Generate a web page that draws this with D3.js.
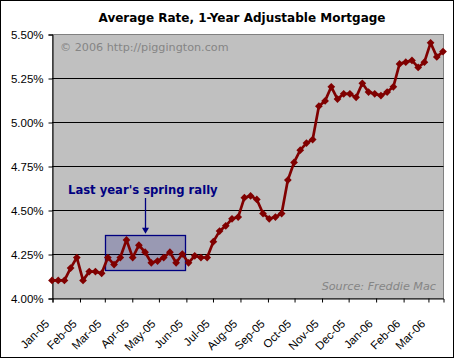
<!DOCTYPE html>
<html><head><meta charset="utf-8">
<script src="https://cdn.jsdelivr.net/npm/d3@7"></script>
<style>body{margin:0;background:#fff}svg{display:block}</style>
</head><body>
<script>
// Weekly average rate, 1-year ARM (Freddie Mac), Jan 6 2005 - Mar 23 2006
const firstWeek = "2005-01-06";
const rates = [4.10,4.10,4.10,4.17,4.23,4.10,4.15,4.15,4.14,4.23,4.19,4.23,4.33,4.23,4.30,4.26,
  4.20,4.21,4.23,4.26,4.20,4.25,4.20,4.24,4.23,4.23,4.32,4.38,4.41,4.45,4.46,4.57,
  4.58,4.56,4.48,4.45,4.46,4.48,4.67,4.77,4.84,4.88,4.90,5.09,5.12,5.20,5.13,5.16,
  5.16,5.14,5.22,5.17,5.16,5.15,5.17,5.20,5.33,5.34,5.35,5.31,5.34,5.45,5.37,5.40];
const yTicks = [4.00,4.25,4.50,4.75,5.00,5.25,5.50];
const xTickDates = ["2005-01-06","2005-02-06","2005-03-06","2005-04-06","2005-05-06","2005-06-06",
  "2005-07-06","2005-08-06","2005-09-06","2005-10-06","2005-11-06","2005-12-06",
  "2006-01-06","2006-02-06","2006-03-06"];
const xTickLabels = ["Jan-05","Feb-05","Mar-05","Apr-05","May-05","Jun-05","Jul-05","Aug-05",
  "Sep-05","Oct-05","Nov-05","Dec-05","Jan-06","Feb-06","Mar-06"];
const titleText = "Average Rate, 1-Year Adjustable Mortgage";
const noteText = "Last year's spring rally";
const noteBox = {from:"2005-03-07", to:"2005-06-05", low:4.16, high:4.36};
const noteArrow = {date:"2005-04-21", top:4.60, tip:4.365};
const watermark = "\u00a9 2006 http://piggington.com";
const sourceText = "Source: Freddie Mac";

const W = 454, H = 358;
const parse = d3.timeParse("%Y-%m-%d");
const start = parse(firstWeek);
const dates = rates.map((_, i) => d3.timeDay.offset(start, 7 * i));
const data = rates.map((v, i) => ({d: dates[i], v}));

const m = {l: 52, r: 443, t: 34, b: 298};
const x = d3.scaleTime().domain([dates[0], dates[dates.length - 1]]).range([m.l, m.r]);
const y = d3.scaleLinear().domain([4, 5.5]).range([m.b, m.t]);

const svg = d3.select("body").append("svg").attr("width", W).attr("height", H)
  .style("font-family", "'DejaVu Sans', Verdana, sans-serif");

svg.append("rect").attr("x", 0.5).attr("y", 0.5).attr("width", W - 1).attr("height", H - 1)
  .attr("fill", "#fff").attr("stroke", "#000");

svg.append("text").attr("x", 242).attr("y", 22).attr("text-anchor", "middle")
  .attr("font-weight", "bold").attr("font-size", 12).attr("fill", "#000").text(titleText);

// plot area
svg.append("rect").attr("x", m.l + 0.5).attr("y", m.t + 0.5).attr("width", m.r - m.l)
  .attr("height", m.b - m.t).attr("fill", "#c0c0c0").attr("stroke", "#808080");

// gridlines
svg.append("g").selectAll("line").data(yTicks.filter(t => t > 4 && t < 5.5)).join("line")
  .attr("x1", m.l).attr("x2", m.r + 0.5)
  .attr("y1", d => Math.round(y(d)) + 0.5).attr("y2", d => Math.round(y(d)) + 0.5)
  .attr("stroke", "#000");

// watermark & source
svg.append("text").attr("x", 60).attr("y", 51).attr("font-size", 11.2).attr("fill", "#858585").text(watermark);
svg.append("text").attr("x", 436).attr("y", 290).attr("text-anchor", "end").attr("font-size", 11.2)
  .attr("font-style", "italic").attr("fill", "#858585").text(sourceText);

// annotation box
svg.append("rect")
  .attr("x", Math.round(x(parse(noteBox.from))) + 0.5).attr("y", Math.round(y(noteBox.high)) + 0.5)
  .attr("width", Math.round(x(parse(noteBox.to)) - x(parse(noteBox.from))))
  .attr("height", Math.round(y(noteBox.low) - y(noteBox.high)))
  .attr("fill", "rgba(0,0,128,0.2)").attr("stroke", "#000080").attr("stroke-width", 1.3);

// y axis
const yAxis = d3.axisLeft(y).tickValues(yTicks).tickSize(4).tickPadding(5)
  .tickFormat(d => d3.format(".2f")(d) + "%");
const gy = svg.append("g").attr("transform", `translate(${m.l + 0.5},0.5)`).call(yAxis);
gy.select(".domain").attr("stroke", "#000");
gy.selectAll(".tick line").attr("stroke", "#000");
gy.selectAll(".tick text").attr("font-size", 11.5).attr("fill", "#000").attr("font-family", null);

// x axis
const xAxis = d3.axisBottom(x).tickValues(xTickDates.map(parse)).tickSize(4)
  .tickFormat((d, i) => xTickLabels[i]);
const gx = svg.append("g").attr("transform", `translate(0.5,${m.b + 0.5})`).call(xAxis);
gx.select(".domain").attr("stroke", "#000");
gx.selectAll(".tick line").attr("stroke", "#000");
gx.selectAll(".tick text").attr("font-size", 11.5).attr("fill", "#000").attr("font-family", null)
  .attr("text-anchor", "end").attr("dy", null).attr("y", null)
  .attr("transform", "translate(-3,26) rotate(-45)");

// series line
svg.append("path").datum(data)
  .attr("d", d3.line().x(d => x(d.d)).y(d => y(d.v)))
  .attr("fill", "none").attr("stroke", "#800000").attr("stroke-width", 2.7)
  .attr("stroke-linejoin", "round");

svg.append("g").selectAll("path").data(data).join("path")
  .attr("d", d3.symbol(d3.symbolSquare, 30))
  .attr("transform", d => `translate(${x(d.d)},${y(d.v)}) rotate(45)`)
  .attr("fill", "#800000");

// annotation arrow & text
const ax = Math.round(x(parse(noteArrow.date))) + 0.5;
const tipY = y(noteArrow.tip);
svg.append("line").attr("x1", ax).attr("x2", ax).attr("y1", 198).attr("y2", tipY - 5)
  .attr("stroke", "#000080").attr("stroke-width", 1.3);
svg.append("path").attr("d", d3.line()([[ax - 3.5, tipY - 6], [ax + 3.5, tipY - 6], [ax, tipY]]))
  .attr("fill", "#000080");
svg.append("text").attr("x", 68).attr("y", 194).attr("font-size", 11.6).attr("font-weight", "bold")
  .attr("fill", "#000080").text(noteText);
</script>
</body></html>
